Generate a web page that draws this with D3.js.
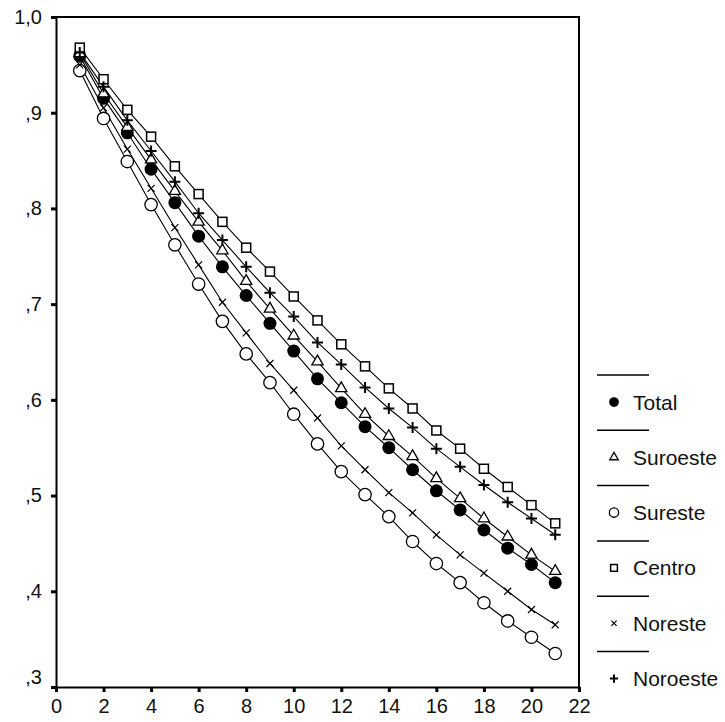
<!DOCTYPE html>
<html>
<head>
<meta charset="utf-8">
<script src="https://cdn.jsdelivr.net/npm/d3@7"></script>
<style>
body{margin:0;background:#fff;}
text{font-family:"Liberation Sans",Arial,sans-serif;fill:#111;}
</style>
</head>
<body>
<svg id="chart" width="725" height="722"></svg>
<script>
// data
var periods = d3.range(1, 22);
var seriesNames = ["Total", "Suroeste", "Sureste", "Centro", "Noreste", "Noroeste"];
var total    = [0.959,0.915,0.879,0.841,0.806,0.771,0.739,0.709,0.680,0.651,0.622,0.597,0.572,0.550,0.527,0.505,0.485,0.464,0.445,0.428,0.409];
var suroeste = [0.962,0.920,0.885,0.851,0.818,0.786,0.756,0.724,0.695,0.667,0.640,0.612,0.585,0.562,0.541,0.518,0.497,0.476,0.457,0.438,0.421];
var sureste  = [0.944,0.894,0.849,0.804,0.762,0.721,0.682,0.648,0.618,0.585,0.554,0.525,0.501,0.478,0.452,0.429,0.409,0.388,0.369,0.352,0.335];
var centro   = [0.968,0.935,0.903,0.875,0.844,0.815,0.786,0.759,0.734,0.708,0.683,0.658,0.635,0.612,0.591,0.568,0.549,0.528,0.509,0.490,0.471];
var noreste  = [0.950,0.905,0.862,0.821,0.780,0.741,0.702,0.670,0.638,0.610,0.581,0.552,0.527,0.503,0.482,0.459,0.438,0.419,0.400,0.381,0.365];
var noroeste = [0.963,0.927,0.892,0.860,0.828,0.795,0.767,0.739,0.712,0.687,0.660,0.637,0.613,0.591,0.571,0.549,0.530,0.511,0.493,0.476,0.459];
var xTicks = d3.range(0, 23, 2);
var yTicks = [0.3, 0.4, 0.5, 0.6, 0.7, 0.8, 0.9, 1.0];
var yTickLabels = [",3", ",4", ",5", ",6", ",7", ",8", ",9", "1,0"];

var allSeries = [total, suroeste, sureste, centro, noreste, noroeste];
var markers = ["dot", "triangle", "circle", "square", "cross", "plus"];

var margin = {top: 17, left: 56, right: 146, bottom: 35};
var width = 725, height = 722;
var svg = d3.select("#chart");

var x = d3.scaleLinear().domain([0, 22]).range([margin.left, width - margin.right]);
var y = d3.scaleLinear().domain([0.3, 1.0]).range([height - margin.bottom, margin.top]);

// frame (top and right)
svg.append("path")
  .attr("d", "M" + x(0) + "," + y(1) + "H" + x(22) + "V" + y(0.3))
  .attr("fill", "none").attr("stroke", "#000").attr("stroke-width", 2);

var xAxis = svg.append("g")
  .attr("transform", "translate(0," + y(0.3) + ")")
  .call(d3.axisBottom(x).tickValues(xTicks).tickSize(5).tickPadding(7).tickFormat(d3.format("d")));
var yAxis = svg.append("g")
  .attr("transform", "translate(" + x(0) + ",0)")
  .call(d3.axisLeft(y).tickValues(yTicks).tickSize(5).tickPadding(9)
    .tickFormat(function(d, i){ return yTickLabels[i]; }));

[xAxis, yAxis].forEach(function(a){
  a.select(".domain").attr("stroke-width", 2).attr("stroke", "#000");
  a.selectAll(".tick line").attr("stroke-width", 3).attr("stroke", "#000");
  a.selectAll(".tick text").style("font-size", "20px").attr("fill", "#111");
});
// lowest y label sits a bit above its tick, clear of the x axis
yAxis.selectAll(".tick text").filter(function(d){ return d == 0.3; }).attr("y", -10);

function drawMarker(g, type, s) {
  // s = scale factor
  if (type == "dot") {
    g.append("circle").attr("r", 6.5*s).attr("fill", "#000");
  } else if (type == "circle") {
    g.append("circle").attr("r", 6.2*s).attr("fill", "#fff").attr("stroke", "#000").attr("stroke-width", 1.3);
  } else if (type == "triangle") {
    g.append("path").attr("d", d3.symbol().type(d3.symbolTriangle).size(55*s*s))
      .attr("fill", "#fff").attr("stroke", "#000").attr("stroke-width", 1.3);
  } else if (type == "square") {
    var h = 4.5*s;
    g.append("rect").attr("x", -h).attr("y", -h).attr("width", 2*h).attr("height", 2*h)
      .attr("fill", "#fff").attr("stroke", "#000").attr("stroke-width", 1.5);
  } else if (type == "cross") {
    var c = 3.5*s;
    g.append("path").attr("d", "M" + (-c) + "," + (-c) + "L" + c + "," + c + "M" + (-c) + "," + c + "L" + c + "," + (-c))
      .attr("stroke", "#000").attr("stroke-width", 1.2);
  } else if (type == "plus") {
    var p = 5.5*s;
    g.append("path").attr("d", "M" + (-p) + ",0H" + p + "M0," + (-p) + "V" + p)
      .attr("stroke", "#000").attr("stroke-width", 2);
  }
}

var line = d3.line()
  .x(function(d, i){ return x(periods[i]); })
  .y(function(d){ return y(d); });

allSeries.forEach(function(vals, k){
  svg.append("path").datum(vals)
    .attr("d", line)
    .attr("fill", "none").attr("stroke", "#000").attr("stroke-width", 1.1);
});

allSeries.forEach(function(vals, k){
  vals.forEach(function(v, i){
    var g = svg.append("g").attr("transform", "translate(" + x(periods[i]) + "," + y(v) + ")");
    drawMarker(g, markers[k], 1);
  });
});

// legend
var legend = svg.append("g");
var legTop = 375, legStep = 55.3;
seriesNames.forEach(function(name, k){
  var ly = legTop + k*legStep;
  legend.append("line").attr("x1", 597).attr("x2", 649).attr("y1", ly).attr("y2", ly)
    .attr("stroke", "#000").attr("stroke-width", 1.5);
  var g = legend.append("g").attr("transform", "translate(614," + (ly + 27) + ")");
  drawMarker(g, markers[k], 0.75);
  legend.append("text").attr("x", 633).attr("y", ly + 27).attr("dy", "0.36em")
    .style("font-size", "21px").text(name);
});
</script>
</body>
</html>
